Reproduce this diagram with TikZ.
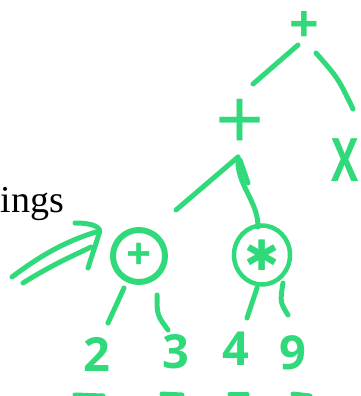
\documentclass[tikz,border=0pt]{standalone}
\usepackage{fontspec}
\usetikzlibrary{shapes.geometric}
\newfontfamily\handfont{Open Sans}
\newfontfamily\serifA{Liberation Serif}
\newfontfamily\symfont{DejaVu Sans}
\definecolor{hand}{RGB}{48,218,122}
\tikzset{
  stroke/.style={draw=hand, line width=5pt, line cap=round, line join=round},
  op/.style={text=hand, font=\handfont\fontsize{#1}{#1}\selectfont, inner sep=0pt},
  digit/.style={text=hand, font=\handfont\bfseries\fontsize{47}{47}\selectfont, inner sep=0pt},
  ring/.style={ellipse, draw=hand, inner sep=0pt, text=hand},
}
\begin{document}
\begin{tikzpicture}[x=1pt,y=-1pt]
\useasboundingbox (0,0) rectangle (361,396);
% text
\node[anchor=base east, inner sep=0pt, font=\serifA\fontsize{38}{38}\selectfont] (word) at (64,212) {ings};
% operator nodes
\node[op=52] (top) at (304,27) {\bfseries +};
\node[op=86] (p2) at (240,125) {+};
\node[op=60] (mul) at (345,160) {\scalebox{0.68}[1]{\bfseries X}};
\node[ring, line width=6pt, minimum width=52pt, minimum height=52pt,
      font=\handfont\bfseries\fontsize{44}{44}\selectfont] (cplus) at (139,256) {+};
\node[ring, line width=4.5pt, minimum width=56pt, minimum height=59pt,
      font=\symfont\fontsize{42}{42}\selectfont] (cstar) at (262,255) {✱};
% digits
\node[digit] (d2) at (97,354) {2};
\node[digit] (d3) at (176,352) {3};
\node[digit] (d4) at (236,349) {4};
\node[digit] (d9) at (293,353) {9};
% connectors
\draw[stroke] ([shift={(-6,18)}]top.center) -- ([shift={(13,-41)}]p2.center);
\draw[stroke] ([shift={(12,26)}]top.center) .. controls (338,78) .. ([shift={(8,-51)}]mul.center);
\draw[stroke] ([shift={(37,-46)}]cplus.center) -- ([shift={(-2,32)}]p2.center);
\draw[stroke] ([shift={(-2,32)}]p2.center) .. controls (236,185) and (258,200) .. ([shift={(-4,-28)}]cstar.center);
\draw[stroke] ([shift={(0,35)}]p2.center) -- ([shift={(8,58)}]p2.center);
\draw[stroke] ([shift={(-15,32)}]cplus.center) -- ([shift={(11,-31)}]d2.center);
\draw[stroke] ([shift={(18,39)}]cplus.center) .. controls (157,315) .. ([shift={(-8,-22)}]d3.center);
\draw[stroke] ([shift={(-5,33)}]cstar.center) -- ([shift={(11,-31)}]d4.center);
\draw[stroke] ([shift={(21,28)}]cstar.center) .. controls (280,302) .. ([shift={(-5,-38)}]d9.center);
% double arrow pointing to the + ring
\coordinate (tip) at ([shift={(-40,-22)}]cplus.center);
\draw[stroke] (12,277) .. controls (45,252) and (70,240) .. ([shift={(-3,-2)}]tip);
\draw[stroke] (23,283) .. controls (55,263) and (75,255) .. ([shift={(-8,13)}]tip);
\draw[stroke] ([shift={(-24,-11)}]tip) .. controls ([shift={(-4,-11)}]tip) and ([shift={(3,-6)}]tip) .. (tip) -- ([shift={(-11,34)}]tip);
% dashes under the digits
\draw[stroke] ([shift={(-22,41)}]d2.center) -- ++(28,1);
\draw[stroke] ([shift={(-14,42)}]d3.center) -- ++(20,1);
\draw[stroke] ([shift={(-6,45)}]d4.center) -- ++(17,0);
\draw[stroke] ([shift={(0,41)}]d9.center) -- ++(17,2);
\end{tikzpicture}
\end{document}
